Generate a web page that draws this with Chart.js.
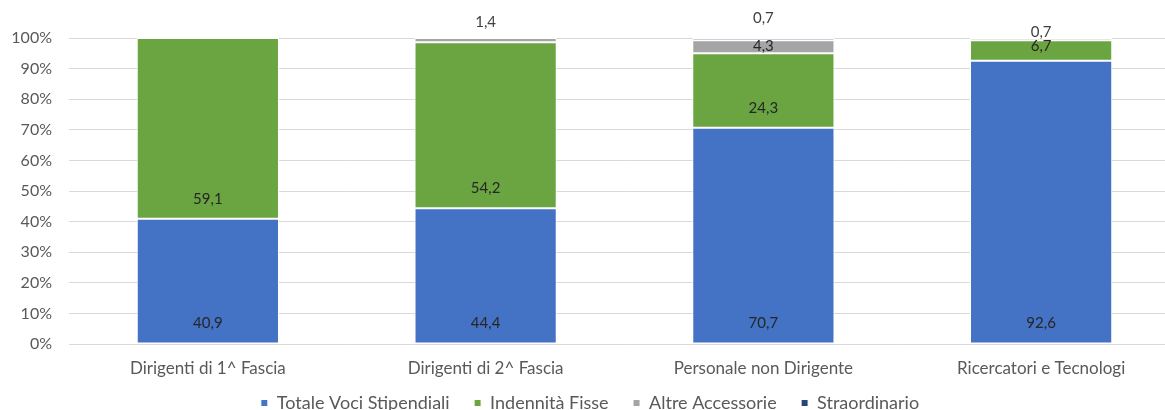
<!DOCTYPE html>
<html>
<head>
<meta charset="utf-8">
<script src="https://cdn.jsdelivr.net/npm/chart.js@4"></script>
<style>
  html, body { margin: 0; padding: 0; background: #fff; overflow: hidden; }
  #wrap { width: 1180px; height: 422px; }
</style>
</head>
<body>
<div id="wrap"><canvas id="quoteChart"></canvas></div>
<script>
const categorie = ["Dirigenti di 1^ Fascia", "Dirigenti di 2^ Fascia", "Personale non Dirigente", "Ricercatori e Tecnologi"];
const vociStipendiali = [40.9, 44.4, 70.7, 92.6];
const indennitaFisse = [59.1, 54.2, 24.3, 6.7];
const altreAccessorie = [0, 1.4, 4.3, 0.7];
const straordinario = [0, 0, 0.7, 0];
const tickPercentuali = [0, 10, 20, 30, 40, 50, 60, 70, 80, 90, 100];

const FONT = "Lato, 'Noto Sans', sans-serif";

// etichette dei valori: alla base del segmento, sopra la barra se il segmento è troppo sottile
const etichette = {
  id: "etichette",
  afterDatasetsDraw(chart, args, opts) {
    const ctx = chart.ctx;
    ctx.save();
    ctx.font = "15px " + FONT;
    ctx.textAlign = "center";
    ctx.textBaseline = "middle";
    chart.data.datasets.forEach((ds, di) => {
      const meta = chart.getDatasetMeta(di);
      meta.data.forEach((bar, i) => {
        const v = ds.data[i];
        if (!v) return;
        const top = Math.min(bar.y, bar.base);
        const bottom = Math.max(bar.y, bar.base);
        let y;
        if (v < 2) {
          ctx.fillStyle = "#404040";
          y = chart.chartArea.top - opts.alzo[i];
        } else {
          ctx.fillStyle = "#262626";
          y = Math.max(bottom - 20, top + 6);
        }
        ctx.fillText(v.toFixed(1).replace(".", ","), bar.x, y);
      });
    });
    ctx.restore();
  }
};

function serie(label, data, colore) {
  return {
    label: label,
    data: data,
    backgroundColor: colore,
    borderColor: "#ffffff",
    borderWidth: 1,
    borderSkipped: false,
    categoryPercentage: 1,
    barPercentage: 0.512
  };
}

const chart = new Chart(document.getElementById("quoteChart"), {
  type: "bar",
  data: {
    labels: categorie,
    datasets: [
      serie("Totale Voci Stipendiali", vociStipendiali, "#4472C4"),
      serie("Indennità Fisse", indennitaFisse, "#6BA542"),
      serie("Altre Accessorie", altreAccessorie, "#A5A5A5"),
      serie("Straordinario", straordinario, "#264478")
    ]
  },
  plugins: [etichette],
  options: {
    responsive: true,
    maintainAspectRatio: false,
    animation: false,
    layout: { padding: { top: 38, left: 0, right: 0, bottom: 0 } },
    plugins: {
      etichette: { alzo: [0, 16, 20, 6] },
      tooltip: { enabled: false },
      legend: {
        position: "bottom",
        labels: {
          boxWidth: 7,
          boxHeight: 7,
          color: "#595959",
          font: { family: FONT, size: 18 },
          padding: 6,
          // spazio in coda alle voci per distanziarle senza alzare la legenda
          generateLabels(c) {
            const voci = Chart.defaults.plugins.legend.labels.generateLabels(c);
            voci.forEach((v, i) => { if (i < voci.length - 1) v.text += "\u00a0\u00a0\u00a0\u00a0"; });
            return voci;
          }
        }
      }
    },
    scales: {
      x: {
        stacked: true,
        grid: { display: false },
        border: { display: false },
        afterFit(scale) { scale.height = 44; },
        ticks: { color: "#595959", font: { family: FONT, size: 17 }, padding: 6 }
      },
      y: {
        stacked: true,
        min: 0,
        max: 100,
        afterBuildTicks(scale) {
          scale.ticks = tickPercentuali.map(v => ({ value: v }));
        },
        afterFit(scale) { scale.width = 69; },
        grid: { color: "#D9D9D9", lineWidth: 1, drawTicks: false },
        border: { display: false },
        ticks: {
          color: "#595959",
          font: { family: FONT, size: 16 },
          padding: 17,
          callback: v => v + "%"
        }
      }
    }
  }
});
</script>
</body>
</html>
